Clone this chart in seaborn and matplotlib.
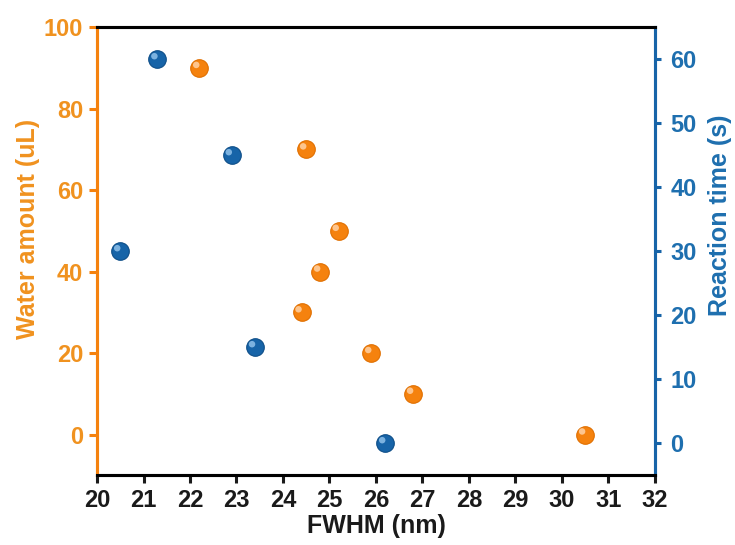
import numpy as np
import pandas as pd
import matplotlib
matplotlib.use("Agg")
import matplotlib.pyplot as plt
import matplotlib.transforms as mtransforms
import seaborn as sns

# Data
water_fwhm = [22.2, 24.5, 25.2, 24.8, 24.4, 25.9, 26.8, 30.5]
water_amount = [90, 70, 50, 40, 30, 20, 10, 0]
time_fwhm = [21.3, 22.9, 20.5, 23.4, 26.2]
reaction_time = [60, 45, 30, 15, 0]
x_ticks = list(range(20, 33))
left_ticks = [0, 20, 40, 60, 80, 100]
right_ticks = [0, 10, 20, 30, 40, 50, 60]

ORANGE = "#F5820E"
ORANGE_EDGE = "#E06F00"
ORANGE_TXT = "#F0921F"
BLUE = "#1764A8"
BLUE_EDGE = "#0E4E88"
BLUE_TXT = "#1E6FAF"

sns.set_style("white")
plt.rcParams['font.family'] = ['Liberation Sans', 'DejaVu Sans']
plt.rcParams['font.weight'] = 'bold'

fig = plt.figure(figsize=(7.35, 5.45), dpi=100)
ax = fig.add_axes([0.132, 0.128, 0.759, 0.822])
ax2 = ax.twinx()

df_w = pd.DataFrame({"FWHM": water_fwhm, "Water": water_amount})
df_t = pd.DataFrame({"FWHM": time_fwhm, "Time": reaction_time})

def sphere(axis, df, ycol, color, edge, light):
    sns.scatterplot(data=df, x="FWHM", y=ycol, ax=axis, s=160, color=color,
                    edgecolor=edge, linewidth=0.8, zorder=3, legend=False)
    sns.scatterplot(data=df, x="FWHM", y=ycol, ax=axis, s=22, color=light,
                    edgecolor="none", linewidth=0, zorder=4, legend=False, alpha=0.85)
    coll = axis.collections[-1]
    off = mtransforms.ScaledTranslation(-2.2/72, 2.2/72, fig.dpi_scale_trans)
    coll.set_offset_transform(axis.transData + off)

sphere(ax, df_w, "Water", ORANGE, ORANGE_EDGE, "#FFD2A6")
sphere(ax2, df_t, "Time", BLUE, BLUE_EDGE, "#8FC0EA")

ax.set_xlim(20, 32)
ax.set_ylim(-10, 100)
ax2.set_ylim(-5, 65)
ax.set_xticks(x_ticks)
ax.set_yticks(left_ticks)
ax2.set_yticks(right_ticks)

ax.set_xlabel("FWHM (nm)", fontsize=18, fontweight='bold', color='#1a1a1a', labelpad=1)
ax.set_ylabel("Water amount (uL)", fontsize=18, fontweight='bold', color=ORANGE_TXT)
ax2.set_ylabel("Reaction time (s)", fontsize=18, fontweight='bold', color=BLUE_TXT)
ax.yaxis.set_label_coords(-0.103, 0.55)
ax2.yaxis.set_label_coords(1.095, 0.58)

for a in (ax, ax2):
    for s in a.spines.values():
        s.set_linewidth(2.2)
        s.set_color('black')
    a.spines['left'].set_color(ORANGE)
    a.spines['right'].set_color(BLUE)

ax.tick_params(axis='x', direction='out', length=6, width=2.2, colors='#1a1a1a',
               labelsize=17, pad=4, bottom=True)
ax.tick_params(axis='y', direction='out', length=6, width=2.2, color=ORANGE,
               labelcolor=ORANGE_TXT, labelsize=17, pad=4, left=True)
ax2.tick_params(axis='y', direction='out', length=4, width=2.2, color=BLUE,
                labelcolor=BLUE_TXT, labelsize=17, pad=7, right=True)
for lab in ax.get_xticklabels() + ax.get_yticklabels() + ax2.get_yticklabels():
    lab.set_fontweight('bold')

fig.savefig("out.png", dpi=100)
